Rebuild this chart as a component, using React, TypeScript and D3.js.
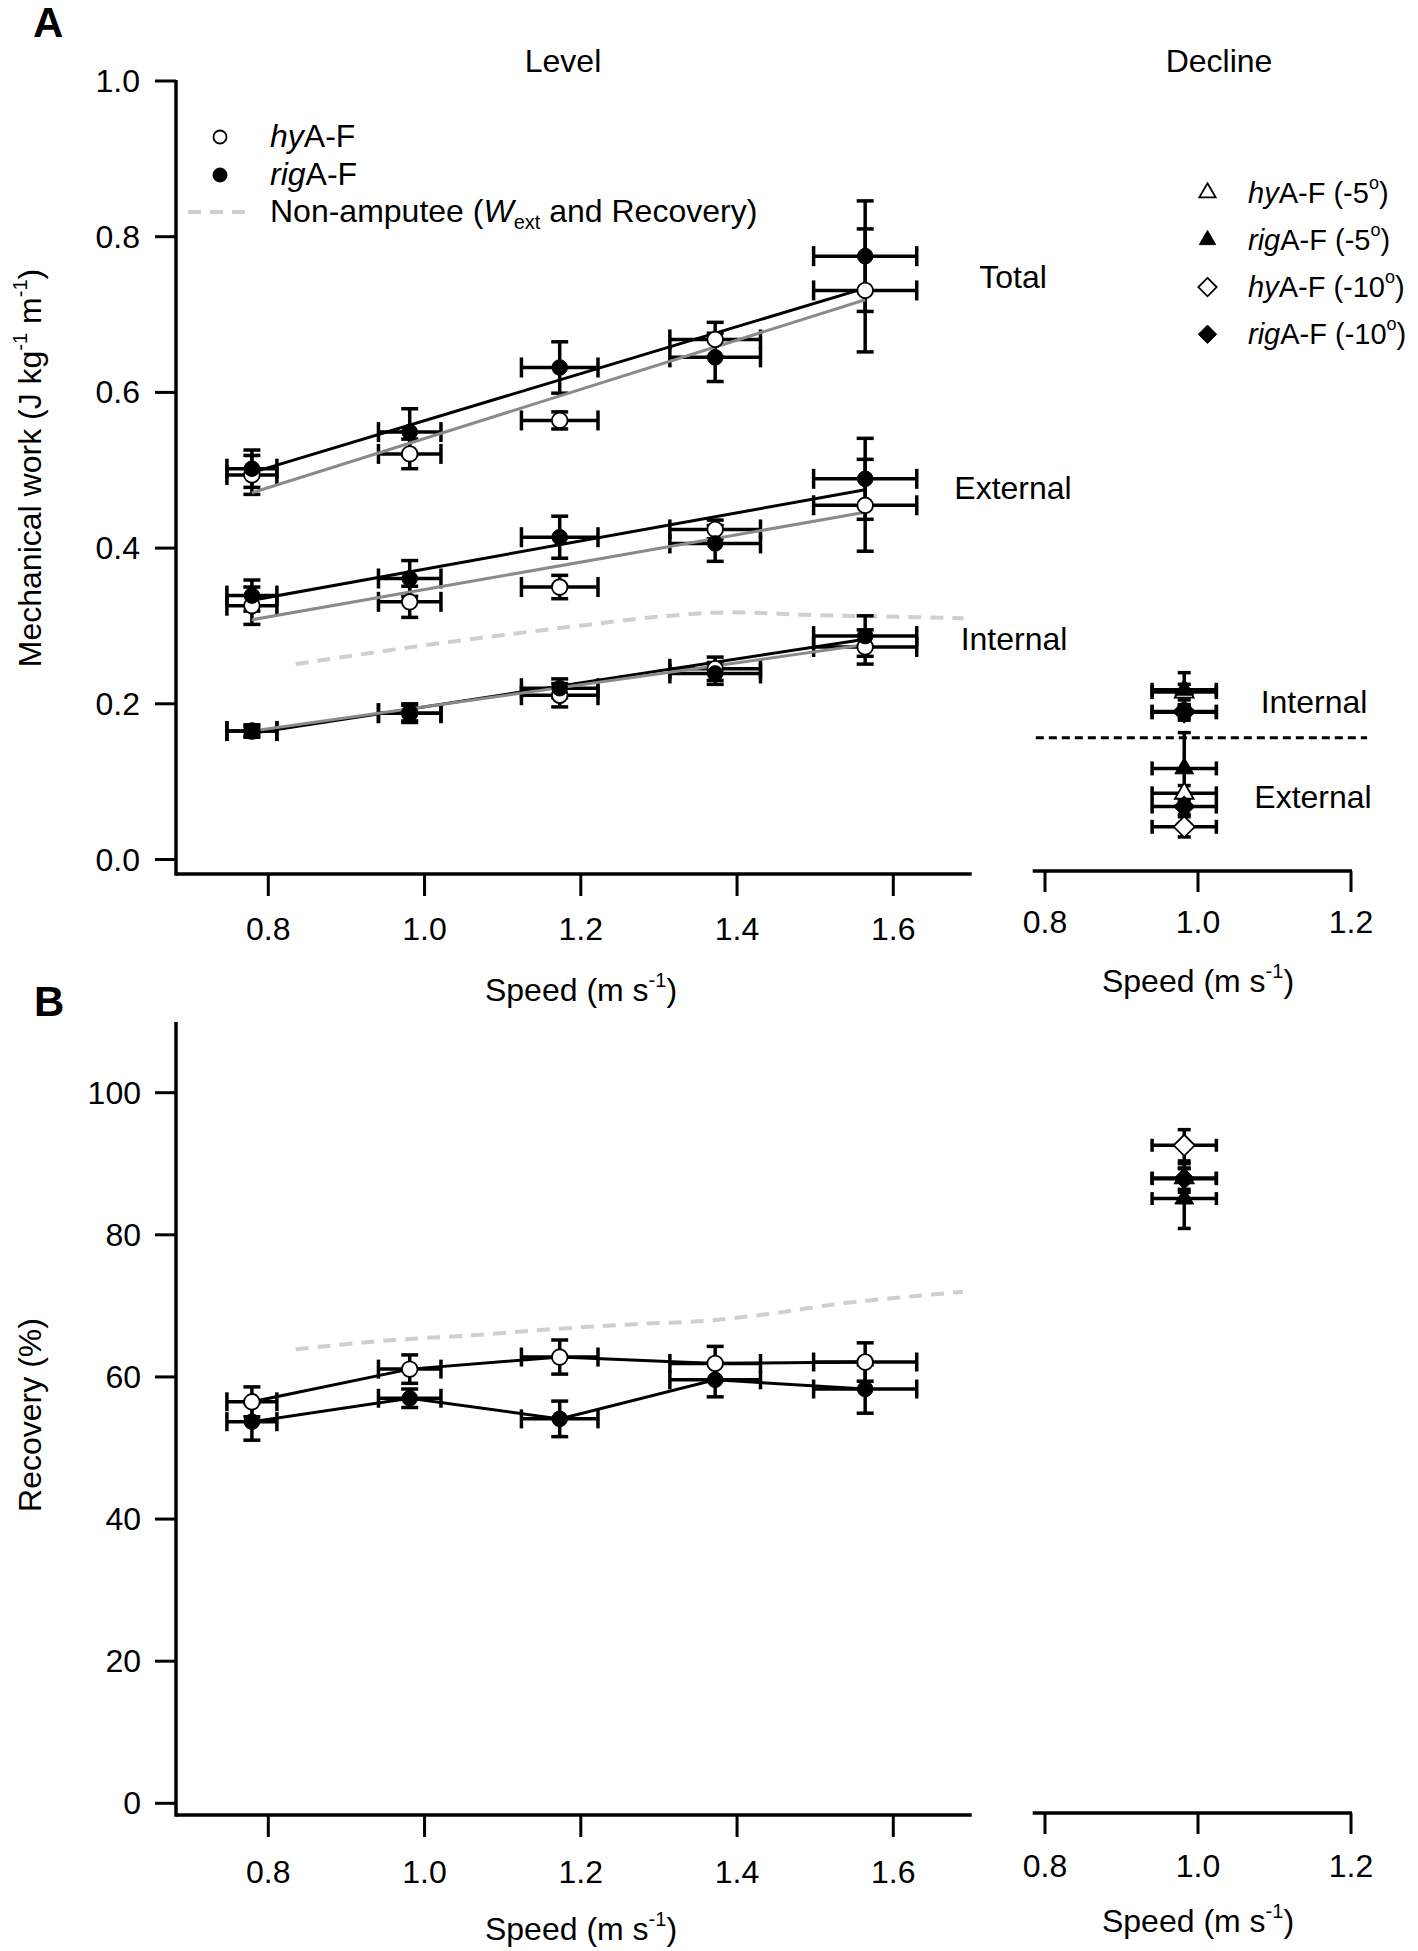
import React from "react";
import * as d3 from "d3";

// ---------------- data ----------------
const speeds = [0.779, 0.981, 1.173, 1.372, 1.564];
const speedSD = [0.032, 0.04, 0.049, 0.058, 0.066];

const totalHy = [0.494, 0.521, 0.564, 0.668, 0.731];
const totalHySD = [0.025, 0.019, 0.011, 0.022, 0.079];
const totalRig = [0.502, 0.549, 0.632, 0.645, 0.775];
const totalRigSD = [0.024, 0.03, 0.033, 0.031, 0.071];
const externalHy = [0.326, 0.331, 0.35, 0.424, 0.455];
const externalHySD = [0.024, 0.02, 0.015, 0.012, 0.059];
const externalRig = [0.339, 0.361, 0.414, 0.406, 0.489];
const externalRigSD = [0.02, 0.023, 0.027, 0.023, 0.052];
const internalHy = [0.165, 0.188, 0.211, 0.245, 0.273];
const internalHySD = [0.006, 0.012, 0.015, 0.015, 0.022];
const internalRig = [0.165, 0.188, 0.22, 0.239, 0.287];
const internalRigSD = [0.008, 0.01, 0.012, 0.014, 0.026];

// linear fits: values at first and last speed
const fitSpeeds = [0.779, 1.564];
const totalRigFit = [0.497, 0.734];
const totalHyFit = [0.471, 0.719];
const externalRigFit = [0.333, 0.475];
const externalHyFit = [0.308, 0.446];
const internalRigFit = [0.162, 0.283];
const internalHyFit = [0.165, 0.276];

const recoveryHy = [56.5, 61.1, 62.8, 61.9, 62.1];
const recoveryHySD = [2.1, 2.0, 2.4, 2.4, 2.7];
const recoveryRig = [53.7, 57.0, 54.1, 59.6, 58.3];
const recoveryRigSD = [2.6, 1.3, 2.5, 2.4, 3.4];

// non-amputee reference curves
const naSpeedW = [0.835, 0.929, 1.021, 1.106, 1.204, 1.302, 1.393, 1.498, 1.595, 1.69];
const naWext = [0.251, 0.265, 0.278, 0.289, 0.301, 0.312, 0.3175, 0.314, 0.312, 0.31];
const naSpeedR = [0.835, 0.961, 1.065, 1.148, 1.273, 1.372, 1.446, 1.537, 1.62, 1.689];
const naRecovery = [63.9, 65.2, 65.9, 66.6, 67.45, 68.0, 68.95, 70.4, 71.3, 72.0];

// decline (order: hyA-F -5, rigA-F -5, hyA-F -10, rigA-F -10)
const declineKeys = ["hy5", "rig5", "hy10", "rig10"];
const declineSpeed = 0.982;
const declineSpeedSD = 0.042;
const declineInternal = [0.215, 0.218, 0.19, 0.189];
const declineInternalSD = [0.01, 0.022, 0.008, 0.01];
const declineExternal = [0.085, 0.117, 0.042, 0.068];
const declineExternalSD = [0.01, 0.046, 0.013, 0.01];
const declineRecovery = [88.0, 85.1, 92.6, 87.9];
const declineRecoverySD = [2.0, 4.2, 2.2, 1.5];
const declineDivider = 0.1565;
const declineDividerSpan = [0.788, 1.221];

const xTicksMain = [0.8, 1.0, 1.2, 1.4, 1.6];
const xTicksDecline = [0.8, 1.0, 1.2];
const yTicksA = [0, 0.2, 0.4, 0.6, 0.8, 1.0];
const yTicksB = [0, 20, 40, 60, 80, 100];

// ---------------- drawing ----------------
const FONT = "'Liberation Sans', Arial, Helvetica, sans-serif";
const FS = 32;
const GRAY = "#8a8a8a";
const LIGHT = "#cfcfcf";

function ErrBar({ sx, sy, x, y, xe, ye, capV, capH }: any) {
  const px = sx(x), py = sy(y);
  const x0 = sx(x - xe), x1 = sx(x + xe);
  const y0 = sy(y - ye), y1 = sy(y + ye);
  const sw = 3.5;
  return (
    <g stroke="#000" strokeWidth={sw} fill="none">
      <line x1={x0} x2={x1} y1={py} y2={py} />
      <line x1={x0} x2={x0} y1={py - capH / 2} y2={py + capH / 2} />
      <line x1={x1} x2={x1} y1={py - capH / 2} y2={py + capH / 2} />
      <line x1={px} x2={px} y1={y0} y2={y1} />
      <line x1={px - capV / 2} x2={px + capV / 2} y1={y0} y2={y0} />
      <line x1={px - capV / 2} x2={px + capV / 2} y1={y1} y2={y1} />
    </g>
  );
}

function Marker({ shape, filled, x, y, r = 7.8 }: any) {
  const fill = filled ? "#000" : "#fff";
  const sw = filled ? 1 : 1.8;
  if (shape === "circle") {
    return <circle cx={x} cy={y} r={r} fill={fill} stroke="#000" strokeWidth={sw} />;
  }
  if (shape === "triangle") {
    const s = r * 2.4;
    const h = (s * Math.sqrt(3)) / 2;
    const pts = [
      [x, y - (2 * h) / 3],
      [x + s / 2, y + h / 3],
      [x - s / 2, y + h / 3],
    ];
    return <polygon points={pts.map((p) => p.join(",")).join(" ")} fill={fill} stroke="#000" strokeWidth={sw} />;
  }
  const d = r * 1.35;
  const pts = [
    [x, y - d],
    [x + d, y],
    [x, y + d],
    [x - d, y],
  ];
  return <polygon points={pts.map((p) => p.join(",")).join(" ")} fill={fill} stroke="#000" strokeWidth={sw} />;
}

const declineShape = (k: string) => (k.endsWith("10") ? "diamond" : "triangle");
const declineFilled = (k: string) => k.startsWith("rig");

export default function App() {
  const xA = d3.scaleLinear().domain([0.8, 1.6]).range([268.3, 893.3]);
  const xD = d3.scaleLinear().domain([0.8, 1.2]).range([1045, 1351]);
  const yA = d3.scaleLinear().domain([0, 1]).range([859.5, 81]);
  const yB = d3.scaleLinear().domain([0, 100]).range([1803.3, 1092.7]);

  const mainLeft = 176, mainRight = 971.7;
  const decLeft = 1032.7, decRight = 1352;
  const axisA = 874, axisAdec = 871;
  const axisB = 1815, axisBdec = 1813;

  const lineA = d3.line<[number, number]>().x((d) => xA(d[0])).y((d) => yA(d[1]));
  const lineB = d3.line<[number, number]>().x((d) => xA(d[0])).y((d) => yB(d[1]));
  const smoothA = d3.line<[number, number]>().x((d) => xA(d[0])).y((d) => yA(d[1])).curve(d3.curveMonotoneX);
  const smoothB = d3.line<[number, number]>().x((d) => xA(d[0])).y((d) => yB(d[1])).curve(d3.curveMonotoneX);

  const groupsA = [
    { hy: totalHy, hySD: totalHySD, rig: totalRig, rigSD: totalRigSD, hyFit: totalHyFit, rigFit: totalRigFit },
    { hy: externalHy, hySD: externalHySD, rig: externalRig, rigSD: externalRigSD, hyFit: externalHyFit, rigFit: externalRigFit },
    { hy: internalHy, hySD: internalHySD, rig: internalRig, rigSD: internalRigSD, hyFit: internalHyFit, rigFit: internalRigFit },
  ];

  const speedLabel = (cx: number, y: number) => (
    <text x={cx} y={y} textAnchor="middle" fontSize={FS}>
      Speed (m s<tspan fontSize={20} dy={-14}>-1</tspan>
      <tspan dy={14}>)</tspan>
    </text>
  );

  const declineLegendLabel = (k: string) => {
    const it = k.startsWith("hy") ? "hy" : "rig";
    const deg = k.endsWith("10") ? "-10" : "-5";
    return { it, deg };
  };

  return (
    <svg
      width={1418}
      height={1951}
      style={{ position: "absolute", left: 0, top: 0, background: "#fff" }}
      fontFamily={FONT}
    >
      <rect x={0} y={0} width={1418} height={1951} fill="#fff" />
      {/* panel letters */}
      <text x={33} y={37} fontSize={42} fontWeight="bold">A</text>
      <text x={34} y={1016} fontSize={42} fontWeight="bold">B</text>

      {/* titles */}
      <text x={563} y={72} textAnchor="middle" fontSize={FS}>Level</text>
      <text x={1219} y={72} textAnchor="middle" fontSize={FS}>Decline</text>

      {/* ---------- Panel A axes ---------- */}
      <g stroke="#000">
        <line x1={mainLeft} x2={mainLeft} y1={yA(1.0) - 1} y2={axisA + 1.75} strokeWidth={3.5} />
        <line x1={mainLeft} x2={mainRight} y1={axisA} y2={axisA} strokeWidth={3.5} />
        {yTicksA.map((t) => (
          <line key={t} x1={155} x2={mainLeft} y1={yA(t)} y2={yA(t)} strokeWidth={3} />
        ))}
        {xTicksMain.map((t) => (
          <line key={t} x1={xA(t)} x2={xA(t)} y1={axisA} y2={axisA + 22} strokeWidth={3} />
        ))}
        <line x1={decLeft} x2={decRight} y1={axisAdec} y2={axisAdec} strokeWidth={3.5} />
        {xTicksDecline.map((t) => (
          <line key={t} x1={xD(t)} x2={xD(t)} y1={axisAdec} y2={axisAdec + 21} strokeWidth={3} />
        ))}
      </g>
      {yTicksA.map((t) => (
        <text key={t} x={140} y={yA(t) + 11} textAnchor="end" fontSize={FS}>{d3.format(".1f")(t)}</text>
      ))}
      {xTicksMain.map((t) => (
        <text key={t} x={xA(t)} y={940} textAnchor="middle" fontSize={FS}>{d3.format(".1f")(t)}</text>
      ))}
      {xTicksDecline.map((t) => (
        <text key={t} x={xD(t)} y={933} textAnchor="middle" fontSize={FS}>{d3.format(".1f")(t)}</text>
      ))}
      {speedLabel(581, 1001)}
      {speedLabel(1198, 992)}
      <text transform="translate(41,468) rotate(-90)" textAnchor="middle" fontSize={FS}>
        Mechanical work (J kg<tspan fontSize={20} dy={-14}>-1</tspan>
        <tspan dy={14}> m</tspan>
        <tspan fontSize={20} dy={-14}>-1</tspan>
        <tspan dy={14}>)</tspan>
      </text>

      {/* non-amputee W_ext */}
      <path
        d={smoothA(naSpeedW.map((s, i) => [s, naWext[i]] as [number, number])) || ""}
        fill="none"
        stroke={LIGHT}
        strokeWidth={4}
        strokeDasharray="13 9"
      />

      {/* error bars A */}
      {groupsA.map((g, gi) => (
        <g key={gi}>
          {speeds.map((s, i) => (
            <ErrBar key={"h" + i} sx={xA} sy={yA} x={s} y={g.hy[i]} xe={speedSD[i]} ye={g.hySD[i]} capV={17} capH={20} />
          ))}
          {speeds.map((s, i) => (
            <ErrBar key={"r" + i} sx={xA} sy={yA} x={s} y={g.rig[i]} xe={speedSD[i]} ye={g.rigSD[i]} capV={17} capH={20} />
          ))}
        </g>
      ))}
      {/* fits */}
      {groupsA.map((g, gi) => (
        <g key={gi} fill="none" strokeWidth={3}>
          <path d={lineA(fitSpeeds.map((s, i) => [s, g.rigFit[i]] as [number, number])) || ""} stroke="#000" />
          <path d={lineA(fitSpeeds.map((s, i) => [s, g.hyFit[i]] as [number, number])) || ""} stroke={GRAY} />
        </g>
      ))}
      {/* markers A */}
      {groupsA.map((g, gi) => (
        <g key={gi}>
          {speeds.map((s, i) => (
            <Marker key={"h" + i} shape="circle" filled={false} x={xA(s)} y={yA(g.hy[i])} />
          ))}
          {speeds.map((s, i) => (
            <Marker key={"r" + i} shape="circle" filled={true} x={xA(s)} y={yA(g.rig[i])} />
          ))}
        </g>
      ))}

      {/* group labels */}
      <text x={1013} y={288} textAnchor="middle" fontSize={FS}>Total</text>
      <text x={1013} y={499} textAnchor="middle" fontSize={FS}>External</text>
      <text x={1014} y={650} textAnchor="middle" fontSize={FS}>Internal</text>

      {/* decline A */}
      <line
        x1={xD(declineDividerSpan[0])}
        x2={xD(declineDividerSpan[1])}
        y1={yA(declineDivider)}
        y2={yA(declineDivider)}
        stroke="#000"
        strokeWidth={3}
        strokeDasharray="8 5"
      />
      {[
        { v: declineInternal, sd: declineInternalSD },
        { v: declineExternal, sd: declineExternalSD },
      ].map((g, gi) => (
        <g key={gi}>
          {declineKeys.map((k, i) => (
            <ErrBar key={k} sx={xD} sy={yA} x={declineSpeed} y={g.v[i]} xe={declineSpeedSD} ye={g.sd[i]} capV={13} capH={14} />
          ))}
          {declineKeys.map((k, i) =>
            declineFilled(k) ? null : (
              <Marker key={k} shape={declineShape(k)} filled={false} x={xD(declineSpeed)} y={yA(g.v[i])} />
            )
          )}
          {declineKeys.map((k, i) =>
            declineFilled(k) ? (
              <Marker key={k} shape={declineShape(k)} filled={true} x={xD(declineSpeed)} y={yA(g.v[i])} />
            ) : null
          )}
        </g>
      ))}
      <text x={1314} y={713} textAnchor="middle" fontSize={FS}>Internal</text>
      <text x={1313} y={808} textAnchor="middle" fontSize={FS}>External</text>

      {/* legend left */}
      <Marker shape="circle" filled={false} x={220} y={137} r={6.5} />
      <text x={270} y={147} fontSize={FS}>
        <tspan fontStyle="italic">hy</tspan>A-F
      </text>
      <Marker shape="circle" filled={true} x={220} y={175} r={7} />
      <text x={270} y={185} fontSize={FS}>
        <tspan fontStyle="italic">rig</tspan>A-F
      </text>
      <line x1={188} x2={249} y1={212} y2={212} stroke={LIGHT} strokeWidth={4} strokeDasharray="13 9" />
      <text x={270} y={222} fontSize={FS}>
        Non-amputee (<tspan fontStyle="italic">W</tspan>
        <tspan fontSize={20} dy={7}>ext</tspan>
        <tspan dy={-7}> and Recovery)</tspan>
      </text>

      {/* legend right */}
      {declineKeys.map((k, i) => {
        const { it, deg } = declineLegendLabel(k);
        const y = 192.7 + i * 47.2;
        return (
          <g key={k}>
            <Marker shape={declineShape(k)} filled={declineFilled(k)} x={1207.5} y={y} r={6.8} />
            <text x={1248} y={y + 10} fontSize={29}>
              <tspan fontStyle="italic">{it}</tspan>A-F ({deg}
              <tspan fontSize={18} dy={-14}>o</tspan>
              <tspan dy={14}>)</tspan>
            </text>
          </g>
        );
      })}

      {/* ---------- Panel B ---------- */}
      <g stroke="#000">
        <line x1={mainLeft} x2={mainLeft} y1={1022} y2={axisB + 1.75} strokeWidth={3.5} />
        <line x1={mainLeft} x2={mainRight} y1={axisB} y2={axisB} strokeWidth={3.5} />
        {yTicksB.map((t) => (
          <line key={t} x1={155} x2={mainLeft} y1={yB(t)} y2={yB(t)} strokeWidth={3} />
        ))}
        {xTicksMain.map((t) => (
          <line key={t} x1={xA(t)} x2={xA(t)} y1={axisB} y2={axisB + 22} strokeWidth={3} />
        ))}
        <line x1={decLeft} x2={decRight} y1={axisBdec} y2={axisBdec} strokeWidth={3.5} />
        {xTicksDecline.map((t) => (
          <line key={t} x1={xD(t)} x2={xD(t)} y1={axisBdec} y2={axisBdec + 21} strokeWidth={3} />
        ))}
      </g>
      {yTicksB.map((t) => (
        <text key={t} x={141} y={yB(t) + 11} textAnchor="end" fontSize={FS}>{t}</text>
      ))}
      {xTicksMain.map((t) => (
        <text key={t} x={xA(t)} y={1883} textAnchor="middle" fontSize={FS}>{d3.format(".1f")(t)}</text>
      ))}
      {xTicksDecline.map((t) => (
        <text key={t} x={xD(t)} y={1877} textAnchor="middle" fontSize={FS}>{d3.format(".1f")(t)}</text>
      ))}
      {speedLabel(581, 1940)}
      {speedLabel(1198, 1932)}
      <text transform="translate(41,1415) rotate(-90)" textAnchor="middle" fontSize={FS}>Recovery (%)</text>

      <path
        d={smoothB(naSpeedR.map((s, i) => [s, naRecovery[i]] as [number, number])) || ""}
        fill="none"
        stroke={LIGHT}
        strokeWidth={4}
        strokeDasharray="13 9"
      />
      {speeds.map((s, i) => (
        <ErrBar key={"bh" + i} sx={xA} sy={yB} x={s} y={recoveryHy[i]} xe={speedSD[i]} ye={recoveryHySD[i]} capV={17} capH={19} />
      ))}
      {speeds.map((s, i) => (
        <ErrBar key={"br" + i} sx={xA} sy={yB} x={s} y={recoveryRig[i]} xe={speedSD[i]} ye={recoveryRigSD[i]} capV={17} capH={19} />
      ))}
      <path d={lineB(speeds.map((s, i) => [s, recoveryHy[i]] as [number, number])) || ""} fill="none" stroke="#000" strokeWidth={3} />
      <path d={lineB(speeds.map((s, i) => [s, recoveryRig[i]] as [number, number])) || ""} fill="none" stroke="#000" strokeWidth={3} />
      {speeds.map((s, i) => (
        <Marker key={"mh" + i} shape="circle" filled={false} x={xA(s)} y={yB(recoveryHy[i])} />
      ))}
      {speeds.map((s, i) => (
        <Marker key={"mr" + i} shape="circle" filled={true} x={xA(s)} y={yB(recoveryRig[i])} />
      ))}

      {/* decline B */}
      {declineKeys.map((k, i) => (
        <ErrBar key={k} sx={xD} sy={yB} x={declineSpeed} y={declineRecovery[i]} xe={declineSpeedSD} ye={declineRecoverySD[i]} capV={13} capH={13} />
      ))}
      {declineKeys.map((k, i) =>
        declineFilled(k) ? null : (
          <Marker key={k} shape={declineShape(k)} filled={false} x={xD(declineSpeed)} y={yB(declineRecovery[i])} />
        )
      )}
      {declineKeys.map((k, i) =>
        declineFilled(k) ? (
          <Marker key={k} shape={declineShape(k)} filled={true} x={xD(declineSpeed)} y={yB(declineRecovery[i])} />
        ) : null
      )}
    </svg>
  );
}
